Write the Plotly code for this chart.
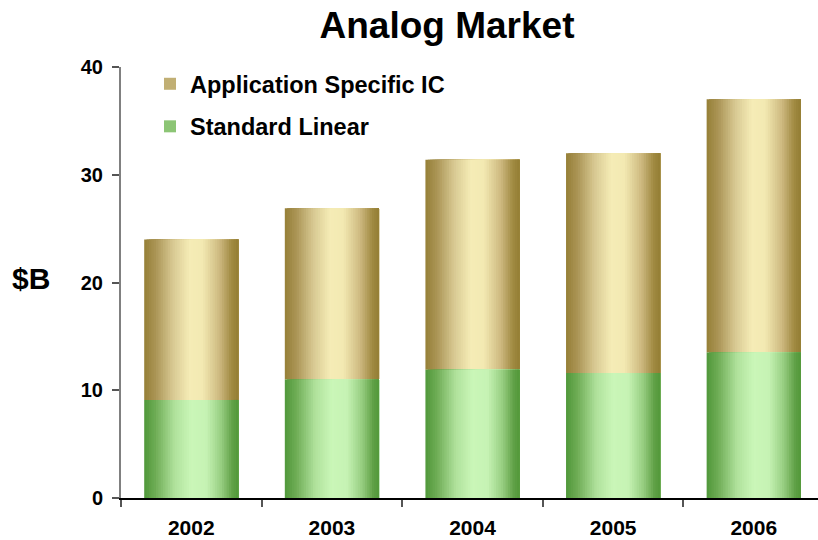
import plotly.graph_objects as go

years = ["2002", "2003", "2004", "2005", "2006"]
standard_linear = [9.1, 11.0, 11.9, 11.6, 13.5]
application_specific = [14.9, 15.9, 19.5, 20.4, 23.5]

y_ticks = [0, 10, 20, 30, 40]

FONT = "Liberation Sans, Arial, sans-serif"
BAR_W = 0.67
N = 40

def lerp(c1, c2, t):
    return tuple(c1[k] + (c2[k] - c1[k]) * t for k in range(3))

def grad(stops, t):
    for (p0, c0), (p1, c1) in zip(stops, stops[1:]):
        if p0 <= t <= p1:
            u = (t - p0) / (p1 - p0) if p1 > p0 else 0
            c = lerp(c0, c1, u)
            return "rgb(%d,%d,%d)" % tuple(round(v) for v in c)
    c = stops[-1][1]
    return "rgb(%d,%d,%d)" % c

gold_stops = [
    (0.0, (150, 128, 55)),
    (0.12, (170, 148, 85)),
    (0.3, (215, 200, 145)),
    (0.48, (245, 236, 182)),
    (0.62, (243, 233, 178)),
    (0.8, (205, 185, 128)),
    (0.93, (160, 138, 65)),
    (1.0, (148, 126, 52)),
]
green_stops = [
    (0.0, (80, 152, 58)),
    (0.12, (110, 172, 85)),
    (0.32, (175, 225, 155)),
    (0.5, (202, 246, 184)),
    (0.66, (198, 243, 180)),
    (0.82, (150, 205, 128)),
    (0.94, (95, 160, 70)),
    (1.0, (82, 152, 58)),
]

fig = go.Figure()

series = [
    ("Application Specific IC", application_specific, standard_linear, gold_stops, 1),
    ("Standard Linear", standard_linear, [0] * len(years), green_stops, 2),
]

LEG_I = N // 5
for name, vals, base, stops, rank in series:
    step = BAR_W / N
    for i in range(N):
        t = (i + 0.5) / N
        fig.add_trace(go.Bar(
            x=years, y=vals, base=base,
            offset=-BAR_W / 2 + i * step,
            width=BAR_W - i * step,
            marker=dict(color=grad(stops, t), line=dict(width=0)),
            name=name,
            legendgroup=name,
            legendrank=rank,
            showlegend=(i == LEG_I),
            hoverinfo="skip",
        ))

fig.update_layout(
    barmode="overlay",
    width=818, height=540,
    margin=dict(l=121, r=0, t=67, b=42),
    paper_bgcolor="white", plot_bgcolor="white",
    font=dict(family=FONT, color="black"),
    title=dict(text="<b>Analog Market</b>", x=447 / 818, xanchor="center",
               y=1 - 25 / 540, yanchor="middle", yref="container",
               font=dict(size=37, family=FONT, color="black")),
    xaxis=dict(type="category", range=[-0.5, 4.457], showgrid=False,
               showline=True, linecolor="black", linewidth=1.5,
               ticks="outside", tickson="boundaries", ticklen=7, tickcolor="#555555",
               tickwidth=1.5, ticklabelstandoff=10,
               tickfont=dict(size=21, family=FONT, color="black", weight="bold")),
    yaxis=dict(range=[0, 40], tickvals=y_ticks, showgrid=False, zeroline=False,
               showline=True, linecolor="#808080", linewidth=2,
               ticks="outside", ticklen=7, tickcolor="#555555", tickwidth=1.5,
               ticklabelstandoff=5,
               tickfont=dict(size=20, family=FONT, color="black", weight="bold")),
    legend=dict(x=(150 - 121) / 697, xanchor="left", y=(498 - 62) / 431, yanchor="top",
                bgcolor="rgba(0,0,0,0)", tracegroupgap=9,
                font=dict(size=23.5, family=FONT, color="black", weight="bold")),
    annotations=[dict(text="<b>$B</b>", x=(31 - 121) / 697, y=(498 - 278) / 431,
                      xref="paper", yref="paper", showarrow=False,
                      xanchor="center", yanchor="middle",
                      font=dict(size=30, family=FONT, color="black"))],
)

fig.write_html("out.html")
